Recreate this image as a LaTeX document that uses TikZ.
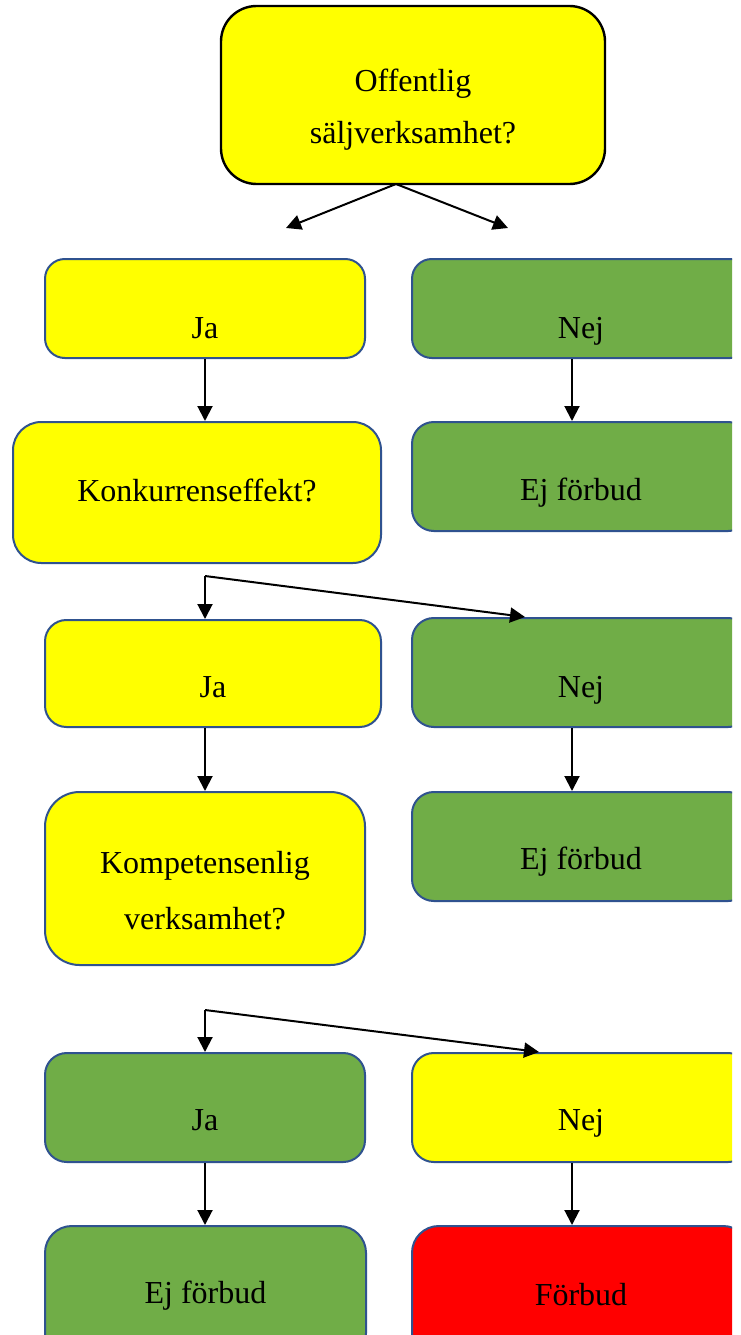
\documentclass[tikz,border=0pt]{standalone}
\usepackage{fontspec}
\setmainfont{Liberation Serif}
\usetikzlibrary{arrows.meta}
\definecolor{boxyellow}{HTML}{FFFF00}
\definecolor{boxgreen}{HTML}{70AD47}
\definecolor{boxred}{HTML}{FF0000}
\definecolor{boxblue}{HTML}{2F528F}
\tikzset{
  box/.style={draw=boxblue, line width=2pt, inner sep=0pt, rectangle},
  yel/.style={fill=boxyellow},
  grn/.style={fill=boxgreen},
  rd/.style={fill=boxred},
  txt/.style={anchor=base, inner sep=0pt, font=\fontsize{32}{52}\selectfont},
  arr/.style={line width=2pt, -{Triangle[length=15pt,width=15pt]}},
}
\newcommand{\mkbox}[6]{% name, style, x1, y1, x2, y2
  \pgfmathsetmacro{\bw}{#5-#3}\pgfmathsetmacro{\bh}{#6-#4}
  \pgfmathsetmacro{\br}{0.2*min(\bw,\bh)}
  \node[box,#2,minimum width=\bw pt,minimum height=\bh pt,rounded corners=\br pt] (#1) at ({(#3+#5)/2},{(#4+#6)/2}) {};}
\begin{document}
\begin{tikzpicture}[x=1pt,y=-1pt]
\useasboundingbox (0,0) rectangle (740,1335);
\fill[white] (0,0) rectangle (740,1335);
\clip (0,0) rectangle (732,1335);
% boxes
\mkbox{top}{yel,draw=black,line width=2.4pt}{221}{6}{605}{184}
\mkbox{ja1}{yel}{45}{259}{365}{358}
\mkbox{nej1}{grn}{412}{259}{750}{358}
\mkbox{q2}{yel}{13}{422}{381}{563}
\mkbox{ej1}{grn}{412}{422}{750}{531}
\mkbox{ja2}{yel}{45}{620}{381}{727}
\mkbox{nej2}{grn}{412}{618}{750}{727}
\mkbox{q3}{yel}{45}{792}{365}{965}
\mkbox{ej2}{grn}{412}{792}{750}{901}
\mkbox{ja3}{grn}{45}{1053}{365}{1162}
\mkbox{nej3}{yel}{412}{1053}{750}{1162}
\mkbox{ej3}{grn}{45}{1226}{366}{1360}
\mkbox{forbud}{rd}{412}{1226}{750}{1360}
% texts
\node[txt] (ttop1) at (top.center |- 0,91.5) {Offentlig};
\node[txt] (ttop2) at (top.center |- 0,143.5) {säljverksamhet?};
\node[txt] (tja1) at (ja1.center |- 0,338) {Ja};
\node[txt] (tnej1) at (nej1.center |- 0,338.5) {Nej};
\node[txt] (tq2) at (q2.center |- 0,501.7) {Konkurrenseffekt?};
\node[txt] (tej1) at (ej1.center |- 0,500.7) {Ej förbud};
\node[txt] (tja2) at (ja2.center |- 0,697) {Ja};
\node[txt] (tnej2) at (nej2.center |- 0,697) {Nej};
\node[txt] (tq3a) at (q3.center |- 0,873) {Kompetensenlig};
\node[txt] (tq3b) at (q3.center |- 0,929) {verksamhet?};
\node[txt] (tej2) at (ej2.center |- 0,869) {Ej förbud};
\node[txt] (tja3) at (ja3.center |- 0,1130.5) {Ja};
\node[txt] (tnej3) at (nej3.center |- 0,1130.5) {Nej};
\node[txt] (tej3) at (ej3.center |- 0,1303) {Ej förbud};
\node[txt] (tforbud) at (forbud.center |- 0,1305) {Förbud};
% connector points
\coordinate (s0) at (396,184);
\coordinate (l0) at (286,228);
\coordinate (r0) at (508,228);
\coordinate (c2) at (205,576);
\coordinate (c3) at (205,1010);
% connectors
\draw[arr] (s0) -- (l0);
\draw[arr] (s0) -- (r0);
\draw[arr] (ja1.south -| c2) -- (q2.north -| c2);
\draw[arr] (nej1.south -| 572,0) -- (ej1.north -| 572,0);
\draw[arr] (c2) -- (ja2.north -| c2);
\draw[arr] (c2) -- (nej2.north -| 525,0);
\draw[arr] (ja2.south -| c2) -- (q3.north -| c2);
\draw[arr] (nej2.south -| 572,0) -- (ej2.north -| 572,0);
\draw[arr] (c3) -- (ja3.north -| c3);
\draw[arr] (c3) -- (nej3.north -| 539,0);
\draw[arr] (ja3.south -| c3) -- (ej3.north -| c3);
\draw[arr] (nej3.south -| 572,0) -- (forbud.north -| 572,0);
\end{tikzpicture}
\end{document}
